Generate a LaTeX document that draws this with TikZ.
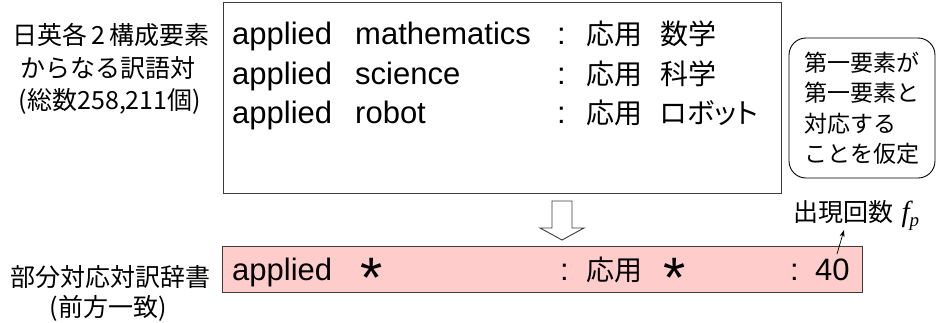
\documentclass[tikz,border=0pt]{standalone}
\usepackage{fontspec}
\setmainfont{Liberation Sans}
\newfontfamily\jp{Noto Sans CJK JP}
\newfontfamily\jpp[RawFeature=+palt]{Noto Sans CJK JP}
\newfontfamily\tms{Liberation Serif}
\usetikzlibrary{arrows.meta}
\definecolor{pinkfill}{RGB}{255,204,204}
\definecolor{boxline}{RGB}{60,60,60}
\begin{document}
\begin{tikzpicture}[x=1pt,y=-1pt,
  en/.style={inner sep=0pt, anchor=base west, font=\fontsize{31}{31}\selectfont},
  ja/.style={inner sep=0pt, anchor=base west, font=\jp\fontsize{28}{28}\selectfont},
  star/.style={inner sep=0pt, anchor=base, font=\fontsize{57}{57}\selectfont},
  lab/.style={inner sep=0pt, font=\jp\fontsize{25}{25}\selectfont},
  frame/.style={draw=boxline, line width=0.9pt, inner sep=0pt, anchor=north west}]
\useasboundingbox (0,0) rectangle (939,322);

% left labels
\node[lab] (l1) at (111,35) {日英各\,2\,構成要素};
\node[lab] (l2) at (108,68) {からなる訳語対};
\node[lab] (l3) at (110,101) {(総数258,211個)};
\node[lab] (l4) at (110,277) {部分対応対訳辞書};
\node[lab] (l5) at (108,308) {(前方一致)};

% big box
\node[frame, minimum width=558pt, minimum height=191pt] (big) at (223,2) {};
\node[en] (e1a) at (232,44) {applied};
\node[en] (e1b) at (355,44) {mathematics};
\node[en] (c1) at (557,44) {:};
\node[ja] (j1a) at (586,44) {応用};
\node[ja] (j1b) at (660,44) {数学};

\node[en] (e2a) at (232,84) {applied};
\node[en] (e2b) at (355,84) {science};
\node[en] (c2) at (557,84) {:};
\node[ja] (j2a) at (586,84) {応用};
\node[ja] (j2b) at (660,84) {科学};

\node[en] (e3a) at (232,123) {applied};
\node[en] (e3b) at (355,123) {robot};
\node[en] (c3) at (557,123) {:};
\node[ja] (j3a) at (586,123) {応用};
\node[ja, font=\jpp\fontsize{28}{28}\selectfont] (j3b) at (660,123) {ロボット};

% note box
\node[draw=black, line width=0.9pt, rounded corners=17pt, minimum width=146pt,
  minimum height=140pt, align=left, inner sep=0pt,
  font=\jp\fontsize{23}{30.5}\selectfont] (note) at (862,108)
  {第一要素が\\第一要素と\\対応する\\ことを仮定};

% hollow arrow
\coordinate (ha) at (562,201);
\draw[boxline, line width=0.9pt, fill=white] (ha) ++(-10,0) -- ++(20,0) -- ++(0,27)
  -- ++(12,0) -- ++(-22,12) -- ++(-22,-12) -- ++(12,0) -- cycle;

% dictionary box
\node[frame, fill=pinkfill, minimum width=640pt, minimum height=46pt] (dict) at (222,246) {};
\node[en] (p1) at (232,280) {applied};
\node[star] (s1) at (372,297) {*};
\node[en] (c4) at (560,280) {:};
\node[ja] (p2) at (586,280) {応用};
\node[star] (s2) at (675,297) {*};
\node[en] (c5) at (790,280) {:};
\node[en] (n40) at (815,280) {40};

% frequency label
\node[lab, anchor=west] (freq) at (793,216)
  {出現回数\,\,{\tms\itshape\fontsize{29}{29}\selectfont f\raisebox{-5pt}{\fontsize{19}{19}\selectfont p}}};
\coordinate (a0) at (837,254);
\coordinate (a1) at (844,230);
\draw[-{Stealth[length=7pt,width=5pt]}, line width=0.7pt] (a0) -- (a1);
\end{tikzpicture}
\end{document}
